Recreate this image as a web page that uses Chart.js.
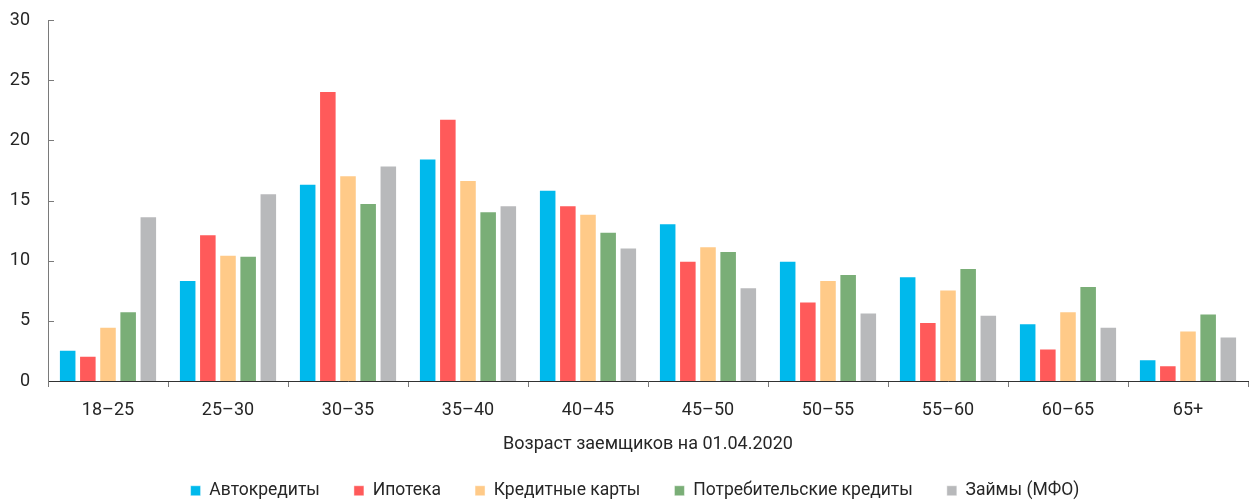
<!DOCTYPE html>
<html lang="ru">
<head>
<meta charset="utf-8">
<title>Возраст заемщиков на 01.04.2020</title>
<script src="https://cdn.jsdelivr.net/npm/chart.js@4.4.1/dist/chart.umd.min.js"></script>
<style>
  html, body { margin: 0; padding: 0; background: #ffffff; }
  #wrap { width: 1250px; height: 501px; }
</style>
</head>
<body>
<div id="wrap"><canvas id="chart" width="1250" height="501"></canvas></div>
<script>
// Age groups of borrowers
const ageGroups = ['18–25', '25–30', '30–35', '35–40', '40–45', '45–50', '50–55', '55–60', '60–65', '65+'];

// Share of borrowers by product, %
const autoLoans     = [2.6, 8.4, 16.4, 18.5, 15.9, 13.1, 10.0, 8.7, 4.8, 1.8];
const mortgages     = [2.1, 12.2, 24.1, 21.8, 14.6, 10.0, 6.6, 4.9, 2.7, 1.3];
const creditCards   = [4.5, 10.5, 17.1, 16.7, 13.9, 11.2, 8.4, 7.6, 5.8, 4.2];
const consumerLoans = [5.8, 10.4, 14.8, 14.1, 12.4, 10.8, 8.9, 9.4, 7.9, 5.6];
const mfoLoans      = [13.7, 15.6, 17.9, 14.6, 11.1, 7.8, 5.7, 5.5, 4.5, 3.7];

// Series names
const seriesNames = ['Автокредиты', 'Ипотека', 'Кредитные карты', 'Потребительские кредиты', 'Займы (МФО)'];

// Value axis range
const yMin = 0;
const yMax = 30;
const yStep = 5;

const axisTitle = 'Возраст заемщиков на 01.04.2020';

const FONT = 'Roboto, "Liberation Sans", sans-serif';
const TEXT = '#262626';
const colors = ['#00b9ec', '#ff5a5a', '#ffca88', '#7aae77', '#b8b9bb'];

const seriesValues = [autoLoans, mortgages, creditCards, consumerLoans, mfoLoans];

// Short tick marks on the inner side of the value axis
const innerValueTicks = {
  id: 'innerValueTicks',
  afterDraw(chart) {
    const yScale = chart.scales.y;
    const left = chart.chartArea.left;
    const ctx = chart.ctx;
    ctx.save();
    ctx.strokeStyle = '#7a7a7a';
    ctx.lineWidth = 1;
    yScale.ticks.forEach((t, i) => {
      if (t.value === yMin) return;
      const py = Math.round(yScale.getPixelForTick(i)) + 0.5;
      ctx.beginPath();
      ctx.moveTo(left, py);
      ctx.lineTo(left + 6, py);
      ctx.stroke();
    });
    ctx.restore();
  }
};

// Keep the legend row close to the bottom edge despite the wide item spacing
const legendRow = {
  id: 'legendRow',
  afterLayout(chart) {
    const lg = chart.legend;
    if (!lg) return;
    const pad = lg.options.labels.padding;
    const rowTop = chart.height - 19;
    lg.top = rowTop - pad;
    lg.bottom = chart.height;
    lg.left += 11;
    lg.right += 11;
  }
};

new Chart(document.getElementById('chart'), {
  type: 'bar',
  data: {
    labels: ageGroups,
    datasets: seriesValues.map((vals, i) => ({
      label: seriesNames[i],
      data: vals,
      backgroundColor: colors[i],
      borderColor: 'rgba(255,255,255,0.45)',
      borderWidth: 1,
      borderSkipped: 'bottom',
      categoryPercentage: 0.84,
      barPercentage: 0.87
    }))
  },
  options: {
    responsive: false,
    animation: false,
    devicePixelRatio: 1,
    layout: { padding: { top: 20, right: 2, left: 0, bottom: 8 } },
    plugins: {
      tooltip: { enabled: false },
      legend: {
        position: 'bottom',
        maxHeight: 40,
        labels: {
          boxWidth: 10,
          boxHeight: 10,
          padding: 34,
          color: TEXT,
          font: { family: FONT, size: 17.5 }
        }
      }
    },
    scales: {
      x: {
        grid: {
          display: true,
          offset: true,
          drawOnChartArea: false,
          drawTicks: true,
          tickLength: 6,
          color: '#7a7a7a'
        },
        border: { display: true, color: '#333333', width: 1 },
        ticks: {
          color: TEXT,
          padding: 14,
          font: { family: FONT, size: 18, lineHeight: 1 }
        },
        title: {
          display: true,
          text: axisTitle,
          color: TEXT,
          padding: { top: 2, bottom: 0 },
          font: { family: FONT, size: 18, lineHeight: 1 }
        }
      },
      y: {
        min: yMin,
        max: yMax,
        afterFit(scale) {
          scale.width = 48;
          scale.paddingTop = 0;
          scale.paddingBottom = 0;
        },
        grid: { display: false, drawTicks: false },
        border: { display: true, color: '#7a7a7a', width: 1 },
        ticks: {
          stepSize: yStep,
          color: TEXT,
          padding: 18,
          font: { family: FONT, size: 18 }
        }
      }
    }
  },
  plugins: [innerValueTicks, legendRow]
});
</script>
</body>
</html>
